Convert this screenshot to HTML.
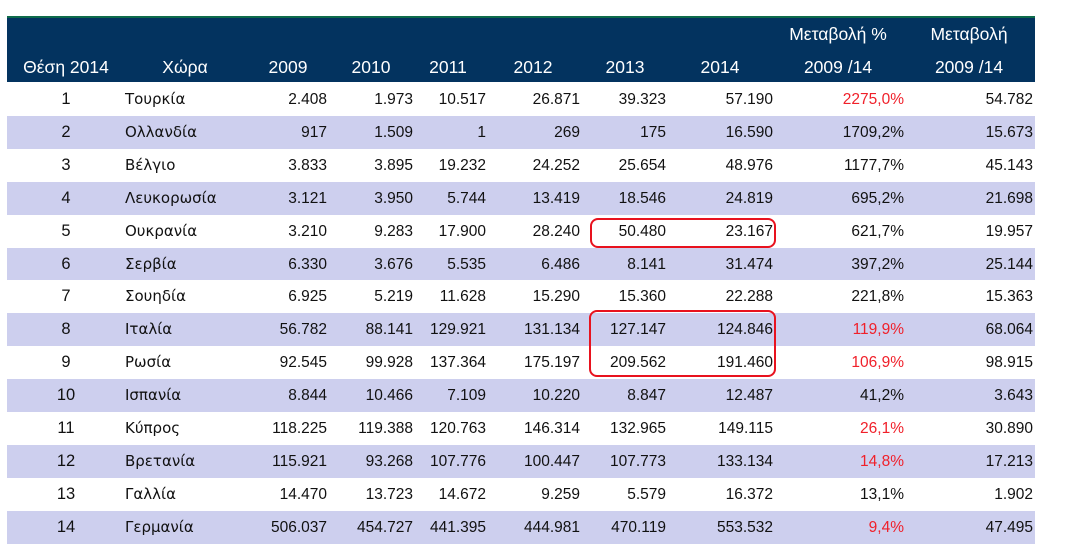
<!DOCTYPE html>
<html><head><meta charset="utf-8"><style>
body{margin:0;width:1066px;height:559px;background:#fff;position:relative;overflow:hidden;font-family:"Liberation Sans","DejaVu Sans",sans-serif}
.hdr{position:absolute;left:7px;top:16px;width:1028px;height:66px;background:#03335f;border-top:2px solid #0e6b4b;box-sizing:border-box}
.h{position:absolute;color:#fff;font-size:17.5px;text-align:center;transform:translateX(-50%);white-space:nowrap}
.row{position:absolute;left:7px;width:1028px;height:33px}
.c{position:absolute;top:0;line-height:33px;font-size:15.5px;color:#111;white-space:nowrap}
.cn{font-family:"DejaVu Sans","Liberation Sans",sans-serif;font-size:15px}
.r{transform:translateX(-100%)}
.red{color:#f0202a}
.box{position:absolute;border:2px solid #e8121e;border-radius:8px;box-sizing:border-box}
</style></head><body>
<div class="hdr"></div>
<div class="h" style="left:66px;top:57px">Θέση 2014</div>
<div class="h" style="left:185px;top:57px">Χώρα</div>
<div class="h" style="left:288px;top:57px">2009</div>
<div class="h" style="left:371px;top:57px">2010</div>
<div class="h" style="left:448px;top:57px">2011</div>
<div class="h" style="left:533px;top:57px">2012</div>
<div class="h" style="left:625px;top:57px">2013</div>
<div class="h" style="left:720px;top:57px">2014</div>
<div class="h" style="left:838px;top:24px">Μεταβολή %</div>
<div class="h" style="left:838px;top:57px">2009 /14</div>
<div class="h" style="left:969px;top:24px">Μεταβολή</div>
<div class="h" style="left:969px;top:57px">2009 /14</div>
<div id="rows"></div>
<div class="box" style="left:590px;top:218px;width:186px;height:30px"></div>
<div class="box" style="left:589px;top:310px;width:187px;height:67px"></div>
<script>
const countries=["Τουρκία","Ολλανδία","Βέλγιο","Λευκορωσία","Ουκρανία","Σερβία","Σουηδία","Ιταλία","Ρωσία","Ισπανία","Κύπρος","Βρετανία","Γαλλία","Γερμανία"];
const y2009=["2.408","917","3.833","3.121","3.210","6.330","6.925","56.782","92.545","8.844","118.225","115.921","14.470","506.037"];
const y2010=["1.973","1.509","3.895","3.950","9.283","3.676","5.219","88.141","99.928","10.466","119.388","93.268","13.723","454.727"];
const y2011=["10.517","1","19.232","5.744","17.900","5.535","11.628","129.921","137.364","7.109","120.763","107.776","14.672","441.395"];
const y2012=["26.871","269","24.252","13.419","28.240","6.486","15.290","131.134","175.197","10.220","146.314","100.447","9.259","444.981"];
const y2013=["39.323","175","25.654","18.546","50.480","8.141","15.360","127.147","209.562","8.847","132.965","107.773","5.579","470.119"];
const y2014=["57.190","16.590","48.976","24.819","23.167","31.474","22.288","124.846","191.460","12.487","149.115","133.134","16.372","553.532"];
const pct=["2275,0%","1709,2%","1177,7%","695,2%","621,7%","397,2%","221,8%","119,9%","106,9%","41,2%","26,1%","14,8%","13,1%","9,4%"];
const redPct=[true,false,false,false,false,false,false,true,true,false,true,true,false,true];
const diff=["54.782","15.673","45.143","21.698","19.957","25.144","15.363","68.064","98.915","3.643","30.890","17.213","1.902","47.495"];
const host=document.getElementById('rows');
const cols=[[y2009,320],[y2010,406],[y2011,479],[y2012,573],[y2013,659],[y2014,766],[pct,897],[diff,1026]];
countries.forEach((name,i)=>{
  const row=document.createElement('div');
  row.className='row';
  
  
  row.style.top=(83+i*32.9)+'px';
  row.style.background=i%2?'#cdcfee':'#fff';
  const rk=document.createElement('div');
  rk.className='c';rk.style.left='59px';rk.style.width='0';rk.style.fontSize='16.5px';
  rk.innerHTML='<span style="position:absolute;transform:translateX(-50%)">'+(i+1)+'</span>';
  
  
  row.appendChild(rk);
  const cn=document.createElement('div');
  cn.className='c cn';cn.style.left='118px';cn.textContent=name;
  
  
  row.appendChild(cn);
  cols.forEach(([arr,x],k)=>{
    const d=document.createElement('div');
    d.className='c r';d.style.left=x+'px';d.textContent=arr[i];
    if(arr===pct&&redPct[i])d.classList.add('red');
    
    
    row.appendChild(d);
  });
  host.appendChild(row);
});
</script>
</body></html>
